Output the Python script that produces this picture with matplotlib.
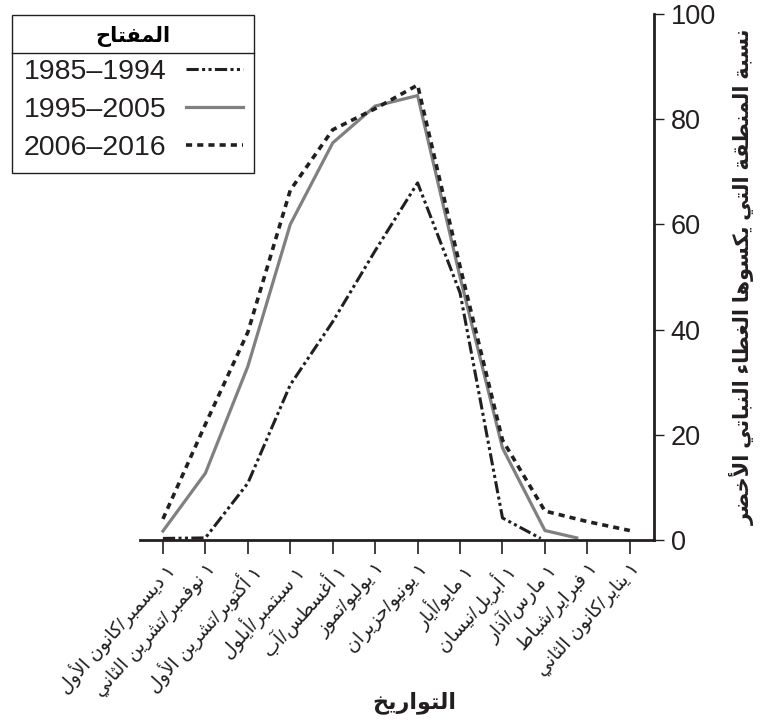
import matplotlib
matplotlib.use('Agg')
import matplotlib.pyplot as plt
from matplotlib.lines import Line2D

plt.rcParams['font.family'] = ['Liberation Sans', 'DejaVu Sans']

# months, left to right as in the picture
MONTHS = ['١ ديسمبر/كانون الأول', '١ نوفمبر/تشرين الثاني', '١ أكتوبر/تشرين الأول',
          '١ سبتمبر/أيلول', '١ أغسطس/آب', '١ يوليو/تموز', '١ يونيو/حزيران',
          '١ مايو/أيار', '١ أبريل/نيسان', '١ مارس/آذار', '١ فبراير/شباط',
          '١ يناير/كانون الثاني']

X_8594 = [0, 1, 2, 3, 4, 5, 6, 7, 8, 8.9]
Y_8594 = [0.3, 0.4, 10.8, 29.5, 41.5, 55, 67.9, 47, 4.2, 0.3]
X_9505 = [0, 1, 2, 3, 4, 5, 6, 7, 8, 9, 9.75]
Y_9505 = [1.7, 12.7, 33, 60, 75.5, 82.5, 84.5, 50, 17.5, 1.8, 0.4]
X_0616 = [0, 1, 2, 3, 4, 5, 6, 7, 8, 9, 10, 11]
Y_0616 = [4, 22, 39.5, 66.5, 78, 82, 86.5, 52, 19, 5.5, 3.5, 1.8]

LABELS = ['1985–1994', '1995–2005', '2006–2016']
LEGEND_TITLE = 'المفتاح'
X_TITLE = 'التواريخ'
Y_TITLE = 'نسبة المنطقة التي يكسوها الغطاء النباتي الأخضر'

# simple arabic shaping (matplotlib has no text shaping / bidi)
FORMS = {'ء': (0xFE80, 1), 'آ': (0xFE81, 2), 'أ': (0xFE83, 2), 'ؤ': (0xFE85, 2),
         'إ': (0xFE87, 2), 'ئ': (0xFE89, 4), 'ا': (0xFE8D, 2), 'ب': (0xFE8F, 4),
         'ة': (0xFE93, 2), 'ت': (0xFE95, 4), 'ث': (0xFE99, 4), 'ج': (0xFE9D, 4),
         'ح': (0xFEA1, 4), 'خ': (0xFEA5, 4), 'د': (0xFEA9, 2), 'ذ': (0xFEAB, 2),
         'ر': (0xFEAD, 2), 'ز': (0xFEAF, 2), 'س': (0xFEB1, 4), 'ش': (0xFEB5, 4),
         'ص': (0xFEB9, 4), 'ض': (0xFEBD, 4), 'ط': (0xFEC1, 4), 'ظ': (0xFEC5, 4),
         'ع': (0xFEC9, 4), 'غ': (0xFECD, 4), 'ف': (0xFED1, 4), 'ق': (0xFED5, 4),
         'ك': (0xFED9, 4), 'ل': (0xFEDD, 4), 'م': (0xFEE1, 4), 'ن': (0xFEE5, 4),
         'ه': (0xFEE9, 4), 'و': (0xFEED, 2), 'ى': (0xFEEF, 2), 'ي': (0xFEF1, 4)}
LAM_ALEF = {'آ': 0xFEF5, 'أ': 0xFEF7, 'إ': 0xFEF9, 'ا': 0xFEFB}


def ar(text):
    out = []
    i = 0
    while i < len(text):
        c = text[i]
        if c not in FORMS:
            out.append(c)
            i += 1
            continue
        prev = text[i - 1] if i > 0 else ''
        left = prev in FORMS and FORMS[prev][1] == 4
        nxt = text[i + 1] if i + 1 < len(text) else ''
        if c == 'ل' and nxt in LAM_ALEF:
            out.append(chr(LAM_ALEF[nxt] + (1 if left else 0)))
            i += 2
            continue
        base, k = FORMS[c]
        right = k == 4 and nxt in FORMS
        if k == 1:
            out.append(chr(base))
        elif k == 2:
            out.append(chr(base + (1 if left else 0)))
        else:
            out.append(chr(base + [[0, 2], [1, 3]][left][right]))
        i += 1
    return ''.join(reversed(out))


BLACK = '#231f20'
GRAY = '#808080'

fig = plt.figure(figsize=(7.68, 7.23), dpi=100)
ax = fig.add_axes([0.1823, 0.2531, 0.6693, 0.7275])

l1, = ax.plot(X_8594, Y_8594, color=BLACK, lw=2.2,
              linestyle=(0, (4.0, 1.1, 1.0, 1.1, 1.0, 1.1)), label=LABELS[0])
l2, = ax.plot(X_9505, Y_9505, color=GRAY, lw=2.3, label=LABELS[1])
l3, = ax.plot(X_0616, Y_0616, color=BLACK, lw=2.6,
              linestyle=(0, (1.7, 1.4)), label=LABELS[2])

ax.set_xlim(-0.54, 11.57)
ax.set_ylim(0, 100)
ax.spines['left'].set_visible(False)
ax.spines['top'].set_visible(False)
ax.spines['bottom'].set_linewidth(2)
ax.spines['right'].set_linewidth(2)
ax.spines['bottom'].set_color(BLACK)
ax.spines['right'].set_color(BLACK)

ax.yaxis.tick_right()
ax.set_yticks([0, 20, 40, 60, 80, 100])
ax.tick_params(axis='y', length=7, width=1, pad=5, labelsize=19.5, colors=BLACK)
ax.set_xticks(range(len(MONTHS)))
ax.set_xticklabels([ar(m) for m in MONTHS], rotation=48, ha='right', va='top',
                   rotation_mode='anchor', fontsize=13.5)
ax.tick_params(axis='x', length=10, width=1.2, pad=4, colors=BLACK)

ax.yaxis.set_label_position('right')
ax.set_ylabel(ar(Y_TITLE), fontsize=15, fontweight='bold', rotation=90, labelpad=10,
              color=BLACK)
fig.text(0.54, 0.028, ar(X_TITLE), fontsize=16, fontweight='bold', ha='center',
         va='center', color=BLACK)

leg = ax.legend(handles=[l1, l2, l3], loc='upper left', bbox_to_anchor=(12 / 768, 1 - 15 / 723),
                bbox_transform=fig.transFigure, borderaxespad=0, fontsize=20.5,
                markerfirst=False, fancybox=False, edgecolor=BLACK, framealpha=1,
                handlelength=2.0, handletextpad=0.7, labelspacing=0.42,
                borderpad=0.4, title=ar(LEGEND_TITLE))
leg.get_frame().set_linewidth(1)
leg.get_title().set_fontweight('bold')
leg.get_title().set_fontsize(15)
for t in leg.get_texts():
    t.set_color(BLACK)

# line under the legend title, half way to the first entry
fig.canvas.draw()
fb = leg.get_frame().get_window_extent()
tb = leg.get_title().get_window_extent()
first = leg.get_texts()[0].get_window_extent()
ysep = (tb.y0 + first.y1) / 2
W, H = fig.bbox.width, fig.bbox.height
fig.add_artist(Line2D([fb.x0 / W, fb.x1 / W], [ysep / H, ysep / H], color=BLACK, lw=1))

fig.savefig('out.png', dpi=100)
